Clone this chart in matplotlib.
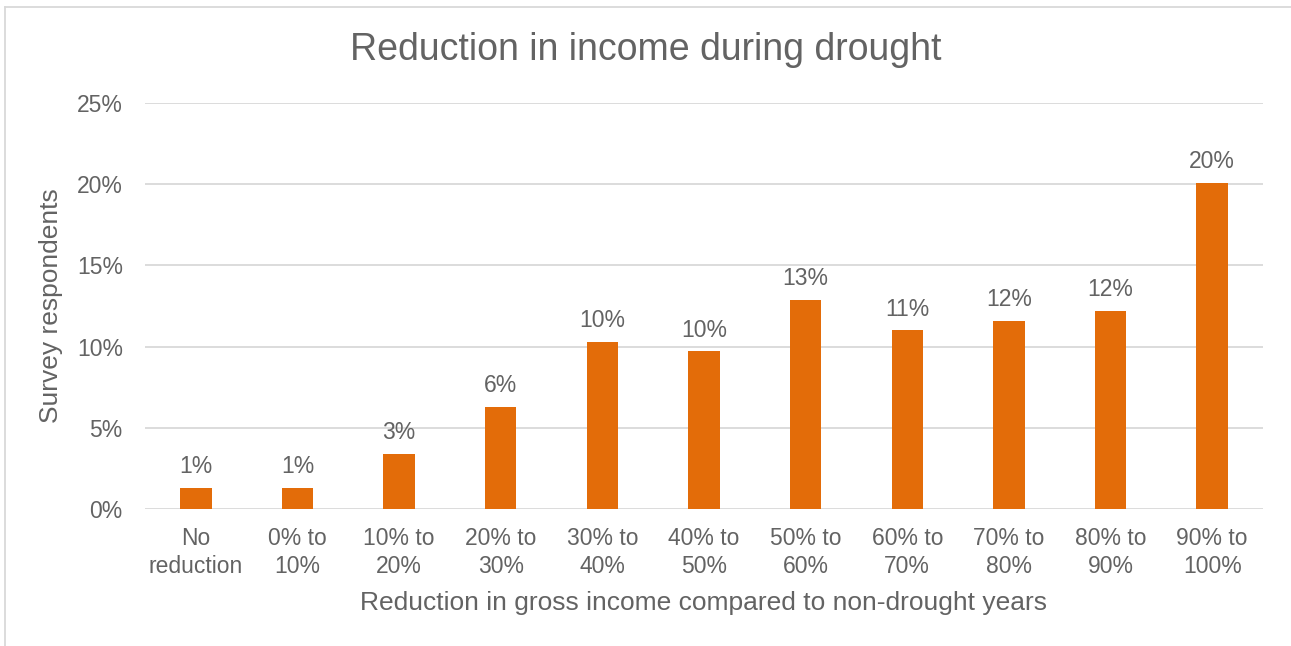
import matplotlib
matplotlib.use('Agg')
from matplotlib import pyplot as plt
from matplotlib.lines import Line2D

plt.rcParams['font.family'] = ['Liberation Sans', 'DejaVu Sans']

categories = ['No\nreduction', '0% to\n10%', '10% to\n20%', '20% to\n30%', '30% to\n40%',
              '40% to\n50%', '50% to\n60%', '60% to\n70%', '70% to\n80%', '80% to\n90%', '90% to\n100%']
respondents = [1.3, 1.3, 3.4, 6.3, 10.3, 9.7, 12.9, 11.0, 11.6, 12.2, 20.1]
yticks = [0, 5, 10, 15, 20, 25]

text_grey = '#636363'
bar_orange = '#E36C09'
grid_grey = '#D9D9D9'

fig = plt.figure(figsize=(12.91, 6.46), dpi=100)
ax = fig.add_axes([145/1291, 1 - 509/646, (1263 - 145)/1291, (509 - 103)/646])

x = range(len(categories))
bars = ax.bar(x, respondents, width=0.31, color=bar_orange, zorder=3)
for rect, v in zip(bars, respondents):
    ax.annotate(f'{round(v):.0f}%', (rect.get_x() + rect.get_width()/2, v),
                xytext=(0, 7), textcoords='offset points', ha='center', va='bottom',
                fontsize=16.5, color=text_grey)

ax.set_xlim(-0.5, len(categories) - 0.5)
ax.set_ylim(0, 25)
ax.set_yticks(yticks)
ax.set_yticklabels([f'{t}%' for t in yticks])
ax.set_xticks(list(x))
ax.set_xticklabels(categories, linespacing=1.3)
ax.tick_params(axis='both', length=0, labelsize=16.5, labelcolor=text_grey)
ax.tick_params(axis='y', pad=16)
ax.tick_params(axis='x', pad=13)
ax.yaxis.grid(True, color=grid_grey, linewidth=1.3, zorder=0)
for s in ax.spines.values():
    s.set_visible(False)

ax.set_xlabel('Reduction in gross income compared to non-drought years',
              fontsize=19, color=text_grey, labelpad=9)
ax.set_ylabel('Survey respondents', fontsize=19, color=text_grey, labelpad=10)
fig.text(0.5, 1 - 50/646, 'Reduction in income during drought', ha='center', va='center',
         fontsize=27, color=text_grey)

# chart frame
fig.add_artist(Line2D([5/1291, 5/1291], [0, 1 - 7/646], color=grid_grey, linewidth=1.3))
fig.add_artist(Line2D([5/1291, 1], [1 - 7/646, 1 - 7/646], color=grid_grey, linewidth=1.3))

fig.savefig('out.png', dpi=100)
